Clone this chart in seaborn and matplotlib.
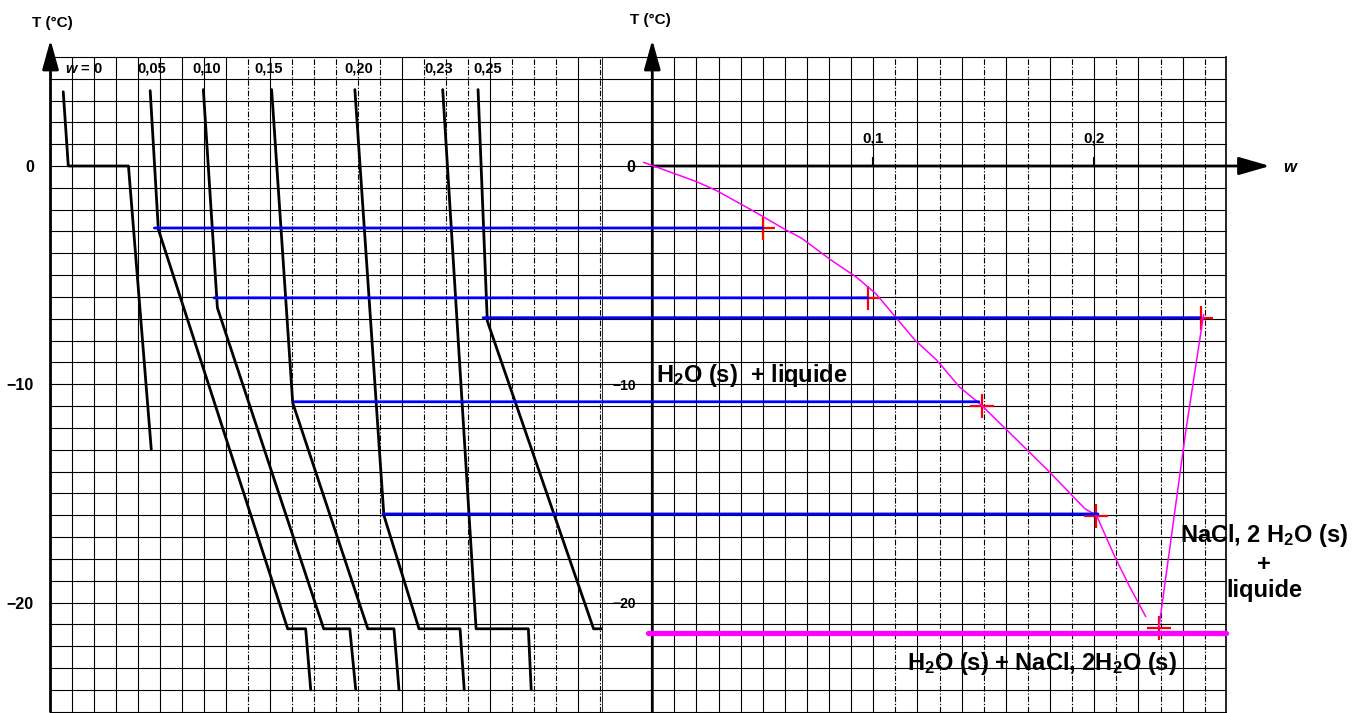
import numpy as np
import pandas as pd
import matplotlib
matplotlib.use("Agg")
import matplotlib.pyplot as plt
from matplotlib.patches import ConnectionPatch
from matplotlib.ticker import MultipleLocator
import seaborn as sns

# ── left panel: cooling curves T = f(time), time in grid squares ───────────
CURVE_W      = ["0", "0,05", "0,10", "0,15", "0,20", "0,23", "0,25"]
CURVE_LABELS = ["$w$ = 0", "0,05", "0,10", "0,15", "0,20", "0,23", "0,25"]
LABEL_TIME   = [1.53, 4.63, 7.10, 9.93, 14.04, 17.69, 19.89]
LABEL_T      = 4.45

curve_time = [
    [0.58, 0.81, 3.55, 4.59],
    [4.54, 4.91, 10.80, 11.62, 11.85],
    [6.96, 7.60, 12.44, 13.63, 13.90],
    [10.07, 11.03, 14.45, 15.64, 15.87],
    [13.86, 15.18, 16.78, 18.65, 18.84],
    [17.86, 19.38, 21.76, 21.89],
    [19.47, 19.89, 24.73, 25.40],
]
curve_temp = [
    [3.4, 0.0, 0.0, -13.0],
    [3.45, -2.9, -21.2, -21.2, -24.0],
    [3.5, -6.5, -21.2, -21.2, -24.0],
    [3.5, -10.85, -21.2, -21.2, -24.0],
    [3.5, -16.0, -21.2, -21.2, -24.0],
    [3.5, -21.2, -21.2, -24.0],
    [3.5, -7.1, -21.2, -21.2],
]

# ── blue report lines: start of crystallisation -> phase diagram ──────────
LIQ_TIME = [4.73, 7.44, 11.12, 15.14, 19.70]
LIQ_T    = [-2.84, -6.04, -10.8, -15.94, -6.95]
LIQ_W    = [0.0499, 0.0976, 0.1478, 0.2017, 0.2478]

# ── right panel: phase diagram T = f(w) ───────────────────────────────────
CROSS_W = [0.0499, 0.0976, 0.149, 0.2008, 0.2484, 0.2293]
CROSS_T = [-2.84, -6.04, -11.0, -16.03, -6.96, -21.17]

ICE_W = [-0.004, 0.0201, 0.0291, 0.0457, 0.060, 0.0676, 0.0809,
         0.0922, 0.1011, 0.110, 0.1189, 0.1288, 0.139, 0.149, 0.159,
         0.179, 0.1958, 0.201, 0.2094, 0.2162, 0.2233]
ICE_T = [0.17, -0.72, -1.13, -2.06, -2.9, -3.31, -4.31,
         -5.08, -5.84, -6.91, -7.98, -8.9, -10.12, -10.96, -11.95,
         -13.94, -15.7, -16.0, -17.92, -19.3, -20.64]

HYD_W = [0.2293, 0.2359, 0.2415, 0.2495]
HYD_T = [-21.13, -16.24, -12.1, -6.8]

EUT_W = [-0.002, 0.2595]
EUT_T = [-21.4, -21.4]

Y_TICKS  = [0, -10, -20]
Y_LABELS = ["0", "\u221210", "\u221220"]
W_TICKS  = [0.1, 0.2]
W_LABELS = ["0,1", "0,2"]

BLUE, MAGENTA, RED = "#0000ff", "#ff00ff", "#ff0000"

sns.set_style("white")
plt.rcParams["font.family"] = ["Liberation Sans", "DejaVu Sans"]
plt.rcParams["font.weight"] = "bold"
plt.rcParams["mathtext.fontset"] = "custom"
plt.rcParams["mathtext.rm"] = "Liberation Sans:bold"
plt.rcParams["mathtext.it"] = "Liberation Sans:italic:bold"
for key in ("text.color", "axes.labelcolor", "xtick.color", "ytick.color"):
    plt.rcParams[key] = "black"

# ---------------------------------------------------------------------------
# layout (pixels of the 1364 x 713 output)
# ---------------------------------------------------------------------------
W_PX, H_PX = 1364, 713
ROW0, PX_DEG = 166.0, 21.83           # pixel row of T = 0, pixels per °C


def frac_y(t):
    return (H_PX - (ROW0 - PX_DEG * t)) / H_PX


bottom, top = frac_y(-25), frac_y(5)
fig = plt.figure(figsize=(13.64, 7.13), dpi=100)
axL = fig.add_axes([50.5 / W_PX, bottom, 551.2 / W_PX, top - bottom])
axR = fig.add_axes([601.7 / W_PX, bottom, 624.0 / W_PX, top - bottom])

DASHDOT = (0, (5, 1.6, 1.2, 1.6))
LEFT_SOLID_COLS = set(range(1, 9)) | {10, 16, 20, 24}


def draw_paper(ax, step_x, x_from, is_solid):
    """Graph paper: horizontal every 1 °C, vertical every step_x."""
    x0, x1 = ax.get_xlim()
    y0, y1 = ax.get_ylim()
    for x in MultipleLocator(step_x).tick_values(x_from, x1):
        if x_from - 1e-9 <= x <= x1 + 1e-9:
            ax.axvline(x, color="black", lw=0.8, zorder=0.5,
                       ls="-" if is_solid(x) else DASHDOT)
    for y in MultipleLocator(1).tick_values(y0, y1):
        if y0 - 1e-9 <= y <= y1 + 1e-9:
            ax.axhline(y, color="black", lw=0.8, zorder=0.5, clip_on=False)


# ── left panel ─────────────────────────────────────────────────────────────
axL.set_xlim(0, 25.1)
axL.set_ylim(-25, 5)
axL.set_xticks([])
axL.set_yticks(Y_TICKS, labels=Y_LABELS)
axL.tick_params(axis="y", which="major", length=7, width=1.4, pad=5,
                labelsize=11.5)
draw_paper(axL, 1, 1, lambda x: round(x) in LEFT_SOLID_COLS)

rows = [(w, t, T) for w, ts, Ts in zip(CURVE_W, curve_time, curve_temp)
        for t, T in zip(ts, Ts)]
cooling = pd.DataFrame(rows, columns=["w", "time", "T"])
sns.lineplot(data=cooling, x="time", y="T", units="w", estimator=None,
             sort=False, color="black", lw=2.0, ax=axL, legend=False)
axL.set(xlabel="", ylabel="")

for lab, t in zip(CURVE_LABELS, LABEL_TIME):
    axL.text(t, LABEL_T, lab, ha="center", va="center", fontsize=10.5)

for side in axL.spines:
    axL.spines[side].set_visible(False)

axL.annotate("", xy=(0, 5.78), xytext=(0, -25), annotation_clip=False,
             arrowprops=dict(arrowstyle="-|>,head_length=1.8,head_width=0.5",
                             mutation_scale=10, lw=2, color="black",
                             shrinkA=0, shrinkB=0))
axL.text(0.1, 6.55, "T (°C)", ha="center", va="center", fontsize=11)

# ── right panel ────────────────────────────────────────────────────────────
axR.set_xlim(-0.0229, 0.2595)
axR.set_ylim(-25, 5)
axR.set_xticks(W_TICKS, labels=W_LABELS)
axR.set_yticks(Y_TICKS, labels=Y_LABELS)
axR.spines["top"].set_position(("data", 0))
axR.spines["left"].set_position(("data", 0))
axR.xaxis.tick_top()
axR.tick_params(axis="x", which="major", direction="out", length=6.5,
                width=1.5, pad=8, labelsize=11)
axR.tick_params(axis="y", which="major", length=7, width=1.4, pad=5,
                labelsize=10)
for lab in axR.get_yticklabels():
    if lab.get_text() == "0":
        lab.set_fontsize(11.5)
draw_paper(axR, 0.01, 0.01,
           lambda x: x <= 0.105 or round(x * 100) % 2 == 0)

for side in ("top", "left", "bottom"):
    axR.spines[side].set_visible(False)
axR.spines["right"].set_color("black")
axR.spines["right"].set_linewidth(1.2)
axR.axvline(axR.get_xlim()[0], color="black", lw=1.2)

# axes with arrow heads
axR.annotate("", xy=(0, 5.78), xytext=(0, -25), annotation_clip=False,
             arrowprops=dict(arrowstyle="-|>,head_length=1.8,head_width=0.5",
                             mutation_scale=10, lw=2, color="black",
                             shrinkA=0, shrinkB=0))
axR.annotate("", xy=(0.2795, 0), xytext=(0, 0), annotation_clip=False,
             arrowprops=dict(arrowstyle="-|>,head_length=1.9,head_width=0.55",
                             mutation_scale=10, lw=2, color="black",
                             shrinkA=0, shrinkB=0))
axR.text(0.2886, -0.05, "w", ha="center", va="center", fontsize=12,
         fontstyle="italic")
axR.text(-0.001, 6.7, "T (°C)", ha="center", va="center", fontsize=11)

sns.lineplot(x=ICE_W, y=ICE_T, sort=False, estimator=None, color=MAGENTA,
             lw=1.1, ax=axR, zorder=5)
sns.lineplot(x=HYD_W, y=HYD_T, sort=False, estimator=None, color=MAGENTA,
             lw=1.1, ax=axR, zorder=5)
sns.lineplot(x=EUT_W, y=EUT_T, sort=False, estimator=None, color=MAGENTA,
             lw=3.8, ax=axR, zorder=4, clip_on=False)
sns.scatterplot(x=CROSS_W, y=CROSS_T, marker="+", s=300, color=RED,
                linewidth=1.6, ax=axR, zorder=3)
axR.set(xlabel="", ylabel="")

axR.text(0.0019, -9.58, "H$_2$O (s)  + liquide", ha="left", va="center",
         fontsize=17)
axR.text(0.277, -18.15, "NaCl, 2 H$_2$O (s)\n+\nliquide", ha="center",
         va="center", fontsize=17, linespacing=1.2)
axR.text(0.1763, -22.77, "H$_2$O (s) + NaCl, 2H$_2$O (s)", ha="center",
         va="center", fontsize=17)

# blue lines from each break point to its point of the diagram
for t, T, w in zip(LIQ_TIME, LIQ_T, LIQ_W):
    con = ConnectionPatch(xyA=(t, T), coordsA="data", axesA=axL,
                          xyB=(w, T), coordsB="data", axesB=axR,
                          color=BLUE, lw=2.0, zorder=6)
    fig.add_artist(con)

fig.savefig("out.png", dpi=100)
